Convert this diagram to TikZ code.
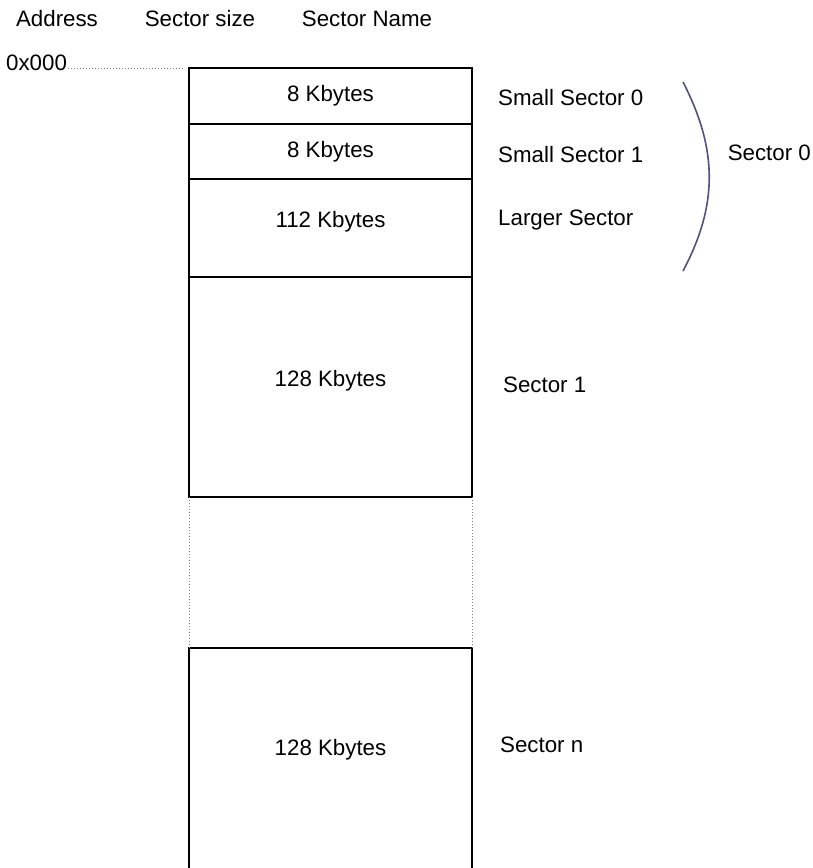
\documentclass[tikz,border=0pt]{standalone}
\usepackage{fontspec}
\setmainfont{Liberation Sans}
\begin{document}
\begin{tikzpicture}[x=1pt,y=1pt,
  txt/.style={font=\fontsize{22.3}{26}\selectfont, inner sep=0pt},
  box/.style={draw=black, line width=1.8pt, minimum width=283pt, inner sep=0pt, outer sep=0pt},
  gapline/.style={draw=gray, dotted, line width=1pt},
  arcline/.style={draw={rgb,255:red,80;green,80;blue,130}, line width=1.6pt}]
\useasboundingbox (0,0) rectangle (812,-868);
% headers
\node[txt] (hA) at (57,-19) {Address};
\node[txt] (hS) at (200,-19) {Sector size};
\node[txt] (hN) at (367,-19) {Sector Name};
% boxes
\node[box, minimum height=56pt] (s0) at (330.5,-96) {};
\node[box, minimum height=55pt] (s1) at (330.5,-151.5) {};
\node[box, minimum height=98pt] (s2) at (330.5,-228) {};
\node[box, minimum height=220pt] (s3) at (330.5,-387) {};
\node[box, minimum height=226pt] (sn) at (330.5,-761) {};
\draw[gapline] (s3.south west) -- (sn.north west);
\draw[gapline] (s3.south east) -- (sn.north east);
% sizes
\node[txt] (t0) at (330.5,-96) {8 Kbytes};
\node[txt] (t1) at (330.5,-152) {8 Kbytes};
\node[txt] (t2) at (330.5,-222) {112 Kbytes};
\node[txt] (t3) at (330.5,-381) {128 Kbytes};
\node[txt] (tn) at (330.5,-750) {128 Kbytes};
% names
\node[txt, anchor=west] (n0) at (498,-98) {Small Sector 0};
\node[txt, anchor=west] (n1) at (498,-155) {Small Sector 1};
\node[txt, anchor=west] (n2) at (498,-220) {Larger Sector};
\node[txt, anchor=west] (n3) at (503,-385) {Sector 1};
\node[txt, anchor=west] (nn) at (500,-745) {Sector n};
% address
\node[txt, anchor=west] (a0) at (6,-63) {0x000};
\coordinate (a0end) at (185,-68);
\draw[gapline] (a0.east |- a0end) ++(1,0) -- (a0end);
% brace arc
\coordinate (arcA) at (683,-82);
\coordinate (arcB) at (683,-271);
\draw[arcline] (arcA) .. controls (718,-150) and (718,-205) .. (arcB);
\node[txt, anchor=east] (g0) at (811,-153) {Sector 0};
\end{tikzpicture}
\end{document}
